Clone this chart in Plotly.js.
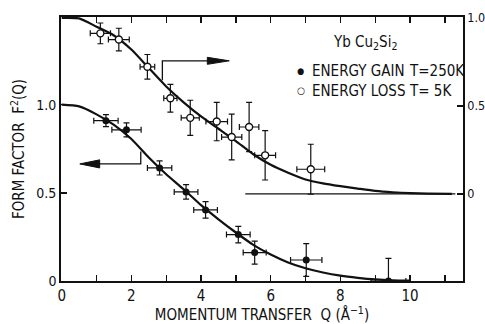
<!DOCTYPE html>
<html>
<head>
<meta charset="utf-8">
<script src="https://cdn.plot.ly/plotly-3.0.1.min.js"></script>
<style>html,body{margin:0;padding:0;background:#fff;}#chart{width:485px;height:324px;}</style>
</head>
<body>
<div id="chart"></div>
<script>
// ---- data ----
const qGain  = [1.27, 1.86, 2.81, 3.57, 4.13, 5.07, 5.54, 7.02, 9.38];
const fGain  = [0.909, 0.857, 0.641, 0.505, 0.403, 0.263, 0.161, 0.119, 0.0];
const dqGain = [0.35, 0.42, 0.35, 0.34, 0.34, 0.34, 0.33, 0.45, 0.5];
const dfGain = [0.034, 0.04, 0.04, 0.041, 0.047, 0.047, 0.065, 0.093, 0.128];

const qLoss  = [1.11, 1.64, 2.46, 3.12, 3.69, 4.45, 4.88, 5.38, 5.84, 7.15];
const fLoss  = [0.912, 0.877, 0.722, 0.543, 0.432, 0.411, 0.323, 0.380, 0.219, 0.14];
const dqLoss = [0.29, 0.30, 0.21, 0.19, 0.26, 0.31, 0.29, 0.28, 0.30, 0.40];
const dfLoss = [0.059, 0.064, 0.07, 0.079, 0.1, 0.109, 0.13, 0.14, 0.14, 0.142];

const qCurveGain = [0, 0.5, 1, 1.5, 2, 2.5, 3, 3.5, 4, 4.5, 5, 5.5, 6, 6.5, 7, 7.5, 8, 8.5, 9, 9.5, 10];
const fCurveGain = [1.0, 0.99, 0.945, 0.885, 0.805, 0.70, 0.605, 0.52, 0.43, 0.35, 0.275, 0.205, 0.15, 0.105, 0.072, 0.048, 0.03, 0.018, 0.009, 0.004, 0.002];

const qCurveLoss = [0, 0.5, 1, 1.5, 2, 2.5, 3, 3.5, 4, 4.5, 5, 5.5, 6, 6.5, 7, 7.5, 8, 8.5, 9, 9.5, 10, 10.5, 11.2];
const fCurveLoss = [1.0, 0.997, 0.95, 0.90, 0.82, 0.715, 0.61, 0.52, 0.44, 0.37, 0.30, 0.225, 0.165, 0.12, 0.082, 0.06, 0.044, 0.03, 0.017, 0.009, 0.004, 0.001, 0];

const qBaseline = [5.27, 11.3];
const fBaseline = [0, 0];

const xTickVals = [0, 2, 4, 6, 8, 10];
const xTickText = ['0', '2', '4', '6', '8', '10'];
const yTickVals = [0, 0.5, 1.0];
const yTickText = ['0', '0.5', '1.0'];

// ---- drawing ----
const INK = '#111';
const FONT = 'DejaVu Sans Condensed, Liberation Sans Narrow, Arial Narrow, sans-serif';

const errStyle = {type: 'data', visible: true, color: INK, thickness: 1.2, width: 3};

const traces = [
  {x: qCurveGain, y: fCurveGain, mode: 'lines', line: {color: INK, width: 2.2, shape: 'spline', smoothing: 0.6}, hoverinfo: 'skip', showlegend: false},
  {x: qCurveLoss, y: fCurveLoss, yaxis: 'y2', mode: 'lines', line: {color: INK, width: 2.2, shape: 'spline', smoothing: 0.6}, hoverinfo: 'skip', showlegend: false},
  {x: qBaseline, y: fBaseline, yaxis: 'y2', mode: 'lines', line: {color: INK, width: 1.4}, hoverinfo: 'skip', showlegend: false},
  {x: qGain, y: fGain, mode: 'markers', name: 'ENERGY GAIN T=250K',
   marker: {symbol: 'circle', size: 7, color: INK},
   error_x: Object.assign({array: dqGain}, errStyle), error_y: Object.assign({array: dfGain}, errStyle), showlegend: false},
  {x: qLoss, y: fLoss, yaxis: 'y2', mode: 'markers', name: 'ENERGY LOSS T= 5K',
   marker: {symbol: 'circle', size: 7, color: '#fff', line: {color: INK, width: 1.4}},
   error_x: Object.assign({array: dqLoss}, errStyle), error_y: Object.assign({array: dfLoss}, errStyle), showlegend: false}
];

const txt = (x, y, text, size, extra) => Object.assign({x: x, y: y, xref: 'x', yref: 'y', text: text, showarrow: false,
  xanchor: 'left', yanchor: 'middle', font: {family: FONT, size: size, color: INK}}, extra || {});

const layout = {
  width: 485, height: 324,
  margin: {l: 61, r: 22, t: 17, b: 43, pad: 0},
  paper_bgcolor: '#fff', plot_bgcolor: '#fff',
  font: {family: FONT, size: 15, color: INK},
  showlegend: false,
  xaxis: {
    range: [-0.02, 11.52], tickmode: 'array', tickvals: xTickVals, ticktext: xTickText,
    ticks: 'inside', ticklen: 6, tickwidth: 1.4, tickcolor: INK,
    minor: {tickmode: 'linear', tick0: 0, dtick: 1, ticks: 'inside', ticklen: 6, tickwidth: 1.4, tickcolor: INK, showgrid: false},
    showline: true, linewidth: 1.8, linecolor: INK, mirror: 'ticks',
    showgrid: false, zeroline: false, automargin: false,
    tickfont: {family: FONT, size: 15, color: INK},
    title: {text: 'MOMENTUM TRANSFER  Q (Å<sup>−1</sup>)', font: {family: FONT, size: 15, color: INK}, standoff: 7}
  },
  yaxis: {
    range: [0, 1.497], tickmode: 'array', tickvals: yTickVals, ticktext: yTickText,
    ticks: 'inside', ticklen: 6, tickwidth: 1.4, tickcolor: INK,
    showline: true, linewidth: 1.8, linecolor: INK,
    showgrid: false, zeroline: false, automargin: false,
    tickfont: {family: FONT, size: 14, color: INK},
    title: {text: 'FORM FACTOR  F<sup>2</sup>(Q)', font: {family: FONT, size: 15, color: INK}, standoff: 8}
  },
  yaxis2: {
    overlaying: 'y', side: 'right', anchor: 'x',
    range: [-0.495, 1.005], tickmode: 'array', tickvals: yTickVals, ticktext: yTickText,
    ticks: 'inside', ticklen: 6, tickwidth: 1.4, tickcolor: INK,
    showline: true, linewidth: 1.8, linecolor: INK,
    showgrid: false, zeroline: false, automargin: false,
    tickfont: {family: FONT, size: 12.5, color: INK}
  },
  shapes: [
    {type: 'path', xref: 'x', yref: 'y', path: 'M 2.27 0.735 L 2.27 0.664 L 1.05 0.664', line: {color: INK, width: 1.3}},
    {type: 'path', xref: 'x', yref: 'y', path: 'M 0.52 0.664 L 1.09 0.687 L 1.09 0.641 Z', fillcolor: INK, line: {color: INK, width: 1}},
    {type: 'path', xref: 'x', yref: 'y2', path: 'M 2.89 0.646 L 2.89 0.756 L 4.22 0.756', line: {color: INK, width: 1.3}},
    {type: 'path', xref: 'x', yref: 'y2', path: 'M 4.81 0.756 L 4.18 0.776 L 4.18 0.736 Z', fillcolor: INK, line: {color: INK, width: 1}}
  ],
  annotations: [
    txt(8.71, 1.35, 'Yb Cu<sub>2</sub>Si<sub>2</sub>', 15, {xanchor: 'center'}),
    txt(6.86, 1.19, '●', 9, {xanchor: 'center'}),
    txt(7.13, 1.19, 'ENERGY GAIN', 15),
    txt(9.91, 1.19, 'T=250K', 15),
    txt(6.86, 1.078, '○', 10, {xanchor: 'center'}),
    txt(7.13, 1.078, 'ENERGY LOSS', 15),
    txt(9.91, 1.078, 'T= 5K', 15)
  ]
};

Plotly.newPlot('chart', traces, layout, {staticPlot: true, displayModeBar: false});
</script>
</body>
</html>
